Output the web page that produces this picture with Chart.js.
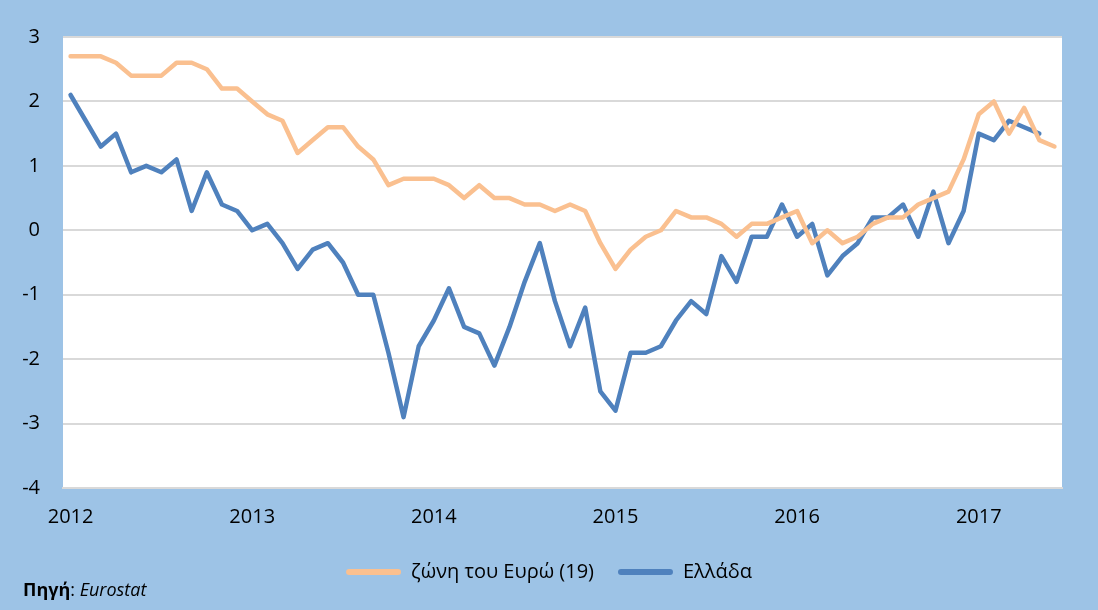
<!DOCTYPE html>
<html>
<head>
<meta charset="utf-8">
<script src="https://cdn.jsdelivr.net/npm/chart.js@4"></script>
<style>
    html, body { margin: 0; padding: 0; background: #9DC3E6; }
    #wrap { width: 1098px; height: 610px; position: relative; }
</style>
</head>
<body>
<div id="wrap"><canvas id="hicpChart"></canvas></div>
<script>
// months Jan 2012 .. Jun 2017
const months = [
    '2012-01','2012-02','2012-03','2012-04','2012-05','2012-06','2012-07','2012-08','2012-09','2012-10','2012-11','2012-12',
    '2013-01','2013-02','2013-03','2013-04','2013-05','2013-06','2013-07','2013-08','2013-09','2013-10','2013-11','2013-12',
    '2014-01','2014-02','2014-03','2014-04','2014-05','2014-06','2014-07','2014-08','2014-09','2014-10','2014-11','2014-12',
    '2015-01','2015-02','2015-03','2015-04','2015-05','2015-06','2015-07','2015-08','2015-09','2015-10','2015-11','2015-12',
    '2016-01','2016-02','2016-03','2016-04','2016-05','2016-06','2016-07','2016-08','2016-09','2016-10','2016-11','2016-12',
    '2017-01','2017-02','2017-03','2017-04','2017-05','2017-06'
];

const euroArea = [
    2.7, 2.7, 2.7, 2.6, 2.4, 2.4, 2.4, 2.6, 2.6, 2.5, 2.2, 2.2,
    2.0, 1.8, 1.7, 1.2, 1.4, 1.6, 1.6, 1.3, 1.1, 0.7, 0.8, 0.8,
    0.8, 0.7, 0.5, 0.7, 0.5, 0.5, 0.4, 0.4, 0.3, 0.4, 0.3, -0.2,
    -0.6, -0.3, -0.1, 0.0, 0.3, 0.2, 0.2, 0.1, -0.1, 0.1, 0.1, 0.2,
    0.3, -0.2, 0.0, -0.2, -0.1, 0.1, 0.2, 0.2, 0.4, 0.5, 0.6, 1.1,
    1.8, 2.0, 1.5, 1.9, 1.4, 1.3
];

const greece = [
    2.1, 1.7, 1.3, 1.5, 0.9, 1.0, 0.9, 1.1, 0.3, 0.9, 0.4, 0.3,
    0.0, 0.1, -0.2, -0.6, -0.3, -0.2, -0.5, -1.0, -1.0, -1.9, -2.9, -1.8,
    -1.4, -0.9, -1.5, -1.6, -2.1, -1.5, -0.8, -0.2, -1.1, -1.8, -1.2, -2.5,
    -2.8, -1.9, -1.9, -1.8, -1.4, -1.1, -1.3, -0.4, -0.8, -0.1, -0.1, 0.4,
    -0.1, 0.1, -0.7, -0.4, -0.2, 0.2, 0.2, 0.4, -0.1, 0.6, -0.2, 0.3,
    1.5, 1.4, 1.7, 1.6, 1.5
];

const seriesNames = ['ζώνη του Ευρώ (19)', 'Ελλάδα'];
const yTicks = [3, 2, 1, 0, -1, -2, -3, -4];

const FONT = "'Open Sans', 'Noto Sans', sans-serif";

// source note under the chart
const sourceNote = {
    id: 'sourceNote',
    afterDraw(chart) {
        const ctx = chart.ctx;
        ctx.save();
        ctx.fillStyle = '#000';
        ctx.textBaseline = 'middle';
        ctx.font = `bold 18px ${FONT}`;
        let x = 23;
        const y = 591;
        ctx.fillText('Πηγή', x, y);
        x += ctx.measureText('Πηγή').width;
        ctx.font = `18px ${FONT}`;
        ctx.fillText(': ', x, y);
        x += ctx.measureText(': ').width;
        ctx.font = `italic 18px ${FONT}`;
        ctx.fillText('Eurostat', x, y);
        ctx.restore();
    }
};

// white plot area
const plotBg = {
    id: 'plotBg',
    beforeDraw(chart) {
        const {ctx, chartArea: a} = chart;
        ctx.save();
        ctx.fillStyle = '#fff';
        ctx.fillRect(a.left, a.top, a.right - a.left, a.bottom - a.top);
        ctx.restore();
    }
};

const ctx = document.getElementById('hicpChart').getContext('2d');
new Chart(ctx, {
    type: 'line',
    data: {
        labels: months,
        datasets: [
            {
                label: seriesNames[0],
                data: euroArea,
                borderColor: '#FAC090',
                backgroundColor: '#FAC090',
                borderWidth: 4.5,
                pointRadius: 0,
                tension: 0,
                borderJoinStyle: 'round',
                borderCapStyle: 'round'
            },
            {
                label: seriesNames[1],
                data: greece,
                borderColor: '#4F81BD',
                backgroundColor: '#4F81BD',
                borderWidth: 4.5,
                pointRadius: 0,
                tension: 0,
                borderJoinStyle: 'round',
                borderCapStyle: 'round'
            }
        ]
    },
    options: {
        responsive: true,
        maintainAspectRatio: false,
        animation: false,
        layout: { padding: { left: 0, right: 0, top: 37, bottom: 18 } },
        plugins: {
            tooltip: { enabled: false },
            legend: {
                position: 'bottom',
                labels: {
                    color: '#000',
                    font: { family: FONT, size: 20 },
                    boxWidth: 55,
                    boxHeight: 6,
                    padding: 24,
                    useBorderRadius: true,
                    borderRadius: 3,
                    generateLabels(chart) {
                        return chart.data.datasets.map((ds, i) => ({
                            text: ds.label,
                            fillStyle: ds.borderColor,
                            strokeStyle: ds.borderColor,
                            lineWidth: 0,
                            borderRadius: 3,
                            fontColor: '#000',
                            datasetIndex: i
                        }));
                    }
                }
            }
        },
        scales: {
            x: {
                offset: true,
                grid: { display: false, drawTicks: false },
                border: { color: '#D9D9D9', width: 2 },
                ticks: {
                    color: '#000',
                    font: { family: FONT, size: 20 },
                    padding: 17,
                    autoSkip: false,
                    maxRotation: 0,
                    callback(value, index) {
                        const m = months[index];
                        return m.endsWith('-01') ? m.slice(0, 4) : null;
                    }
                },
                afterFit(scale) { scale.height = 50; }
            },
            y: {
                min: -4,
                max: 3,
                afterBuildTicks(scale) { scale.ticks = yTicks.map(v => ({ value: v })); },
                grid: { color: '#D9D9D9', lineWidth: 2, drawTicks: false },
                border: { display: false },
                ticks: {
                    color: '#000',
                    font: { family: FONT, size: 20 },
                    padding: 23
                },
                afterFit(scale) { scale.width = 63; }
            },
            // empty right margin so the legend stays centred on the whole picture
            yRight: {
                position: 'right',
                min: -4,
                max: 3,
                grid: { display: false, drawTicks: false },
                border: { display: false },
                ticks: { display: false },
                afterFit(scale) { scale.width = 36; }
            }
        }
    },
    plugins: [plotBg, sourceNote]
});
</script>
</body>
</html>
